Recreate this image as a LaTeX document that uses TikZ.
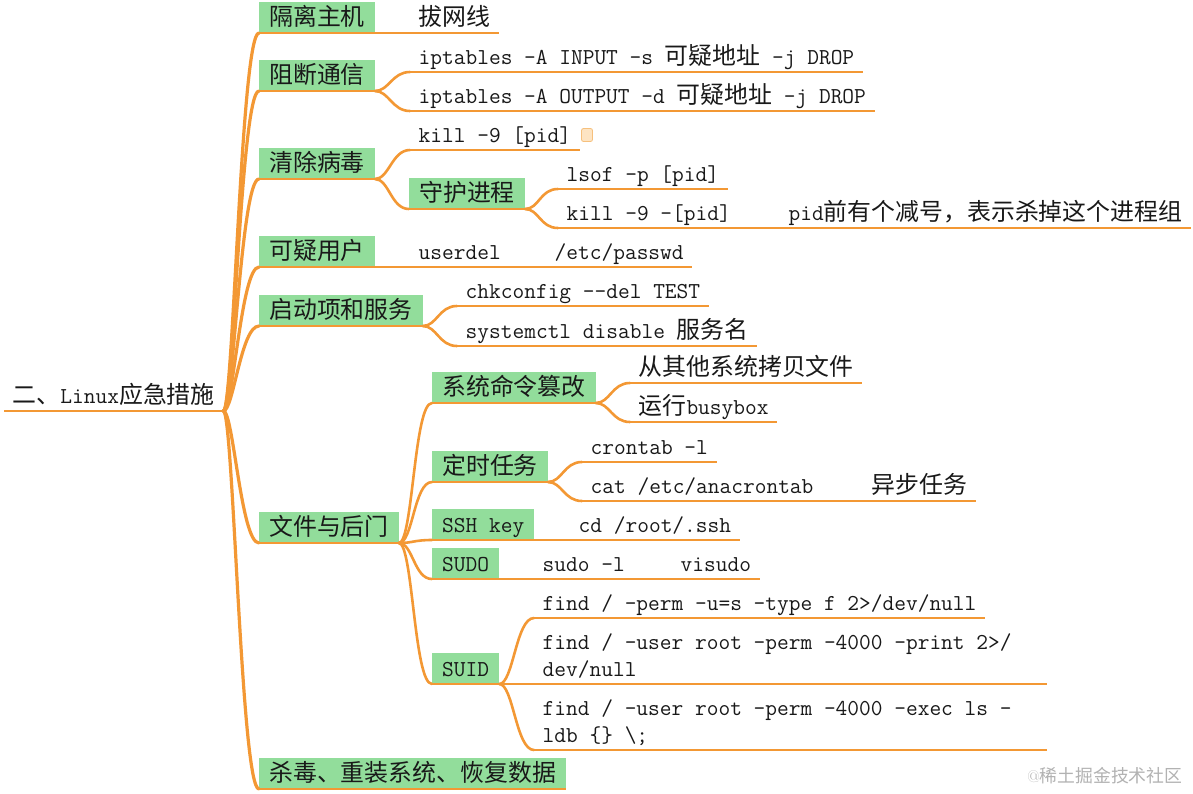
\documentclass[tikz,border=0pt]{standalone}
\usepackage{fontspec}
\newfontfamily\cjk[Scale=1.05]{Noto Sans CJK SC}
\newcommand{\zh}[1]{{\cjk #1}}
\definecolor{br}{RGB}{243,152,52}
\definecolor{bx}{RGB}{146,221,155}
\definecolor{tx}{RGB}{25,25,25}
\definecolor{icfill}{RGB}{253,228,195}
\definecolor{icline}{RGB}{246,192,125}
\tikzset{
  every node/.style={font=\fontsize{22.76pt}{27pt}\selectfont\ttfamily, text=tx},
  topic/.style={anchor=south west, fill=bx, inner xsep=10pt, inner ysep=0pt, text height=24pt, text depth=7pt},
  leaf/.style={anchor=south west, inner xsep=8.5pt, inner ysep=0pt, text depth=7pt},
  rootc/.style={draw=br, line width=3.2pt, line cap=round},
  conn/.style={draw=br, line width=2.6pt, line cap=round},
  ul/.style={draw=br, line width=1.3pt},
  bl/.style={draw=br, line width=2pt},
  icon/.style={draw=icline, fill=icfill, line width=0.8pt, rounded corners=2pt, minimum width=11pt, minimum height=13pt, inner sep=0pt},
}
\begin{document}
\begin{tikzpicture}[x=1pt,y=-1pt]
\fill[white] (0,0) rectangle (1193,793);
\useasboundingbox (0,0) rectangle (1193,793);

% root
\node[leaf] (root) at (4,411) {\zh{二、}Linux\zh{应急措施}};

% level 1
\node[topic] (g1) at (259,33) {\zh{隔离主机}};
\node[topic] (g2) at (259,91) {\zh{阻断通信}};
\node[topic] (g3) at (259,179) {\zh{清除病毒}};
\node[topic] (g4) at (259,267) {\zh{可疑用户}};
\node[topic] (g5) at (259,326) {\zh{启动项和服务}};
\node[topic] (g6) at (259,543) {\zh{文件与后门}};
\node[topic] (g7) at (259,789) {\zh{杀毒、重装系统、恢复数据}};

% children
\node[leaf] (a1) at (410,33) {\zh{拔网线}};
\node[leaf] (b1) at (410,72) {iptables -A INPUT -s \zh{可疑地址} -j DROP};
\node[leaf] (b2) at (410,111) {iptables -A OUTPUT -d \zh{可疑地址} -j DROP};
\node[leaf] (c1) at (410,150) {kill -9 [pid]\hspace{19pt}};
\node[icon] (ic) at (587,135) {};
\node[topic] (c2) at (409,209) {\zh{守护进程}};
\node[leaf] (c21) at (558,189) {lsof -p [pid]};
\node[leaf] (c22) at (558,228) {kill -9 -[pid]};
\node[leaf] (c221) at (780,228) {pid\zh{前有个减号，表示杀掉这个进程组}};
\node[leaf] (d1) at (410,267) {userdel};
\node[leaf] (d11) at (546,267) {/etc/passwd};
\node[leaf] (e1) at (457,306) {chkconfig -{}-del TEST};
\node[leaf] (e2) at (457,346) {systemctl disable \zh{服务名}};

\node[topic] (f1) at (432,403) {\zh{系统命令篡改}};
\node[topic] (f2) at (432,482) {\zh{定时任务}};
\node[topic] (f3) at (432,540) {SSH key};
\node[topic] (f4) at (432,579) {SUDO};
\node[topic] (f5) at (432,684) {SUID};
\node[leaf] (f11) at (630,383) {\zh{从其他系统拷贝文件}};
\node[leaf] (f12) at (630,422) {\zh{运行}busybox};
\node[leaf] (f21) at (582,462) {crontab -l};
\node[leaf] (f22) at (582,501) {cat /etc/anacrontab};
\node[leaf] (f221) at (863,501) {\zh{异步任务}};
\node[leaf] (f31) at (570,540) {cd /root/.ssh};
\node[leaf] (f41) at (534,579) {sudo -l};
\node[leaf] (f411) at (672,579) {visudo};
\node[leaf] (f51) at (534,618) {find / -perm -u=s -type f 2>/dev/null};
\node[leaf] (f52) at (534,684) {\parbox[b]{496pt}{find / -user root -perm -4000 -print 2>/\\dev/null}};
\node[leaf] (f53) at (534,750) {\parbox[b]{496pt}{find / -user root -perm -4000 -exec ls -\\ldb \{\} \textbackslash;}};

% watermark
\node[font=\fontsize{17pt}{20pt}\selectfont, text=black!30, anchor=base east] (wm) at (1186,782) {@\zh{稀土掘金技术社区}};

% underlines
\foreach \n in {root,a1,b1,b2,c1,c21,c22,c221,d1,d11,e1,e2,f11,f12,f21,f22,f221,f31,f41,f411,f51,f52,f53}
  \draw[ul] (\n.south west) -- (\n.south east);
\draw[bl] (root.south west) -- (root.south east);
\foreach \n in {g1,g2,g3,g4,g5,g6,g7,c2,f1,f2,f3,f4,f5}
  \draw[bl] (\n.south west) -- (\n.south east);

% root connectors
\foreach \c in {g1,g2,g3,g4,g5,g6,g7}
  \draw[rootc] (root.south east) .. controls +(10,0) and +(-18,0) .. (\c.south west);

% other connectors
\foreach \p/\c in {g1/a1,g2/b1,g2/b2,g3/c1,g3/c2,c2/c21,c2/c22,c22/c221,g4/d1,d1/d11,g5/e1,g5/e2,
  g6/f1,g6/f2,g6/f3,g6/f4,g6/f5,f1/f11,f1/f12,f2/f21,f2/f22,f22/f221,f3/f31,f4/f41,f41/f411,f5/f51,f5/f52,f5/f53}
  \draw[conn] (\p.south east) .. controls +(14,0) and +(-18,0) .. (\c.south west);
\end{tikzpicture}
\end{document}
